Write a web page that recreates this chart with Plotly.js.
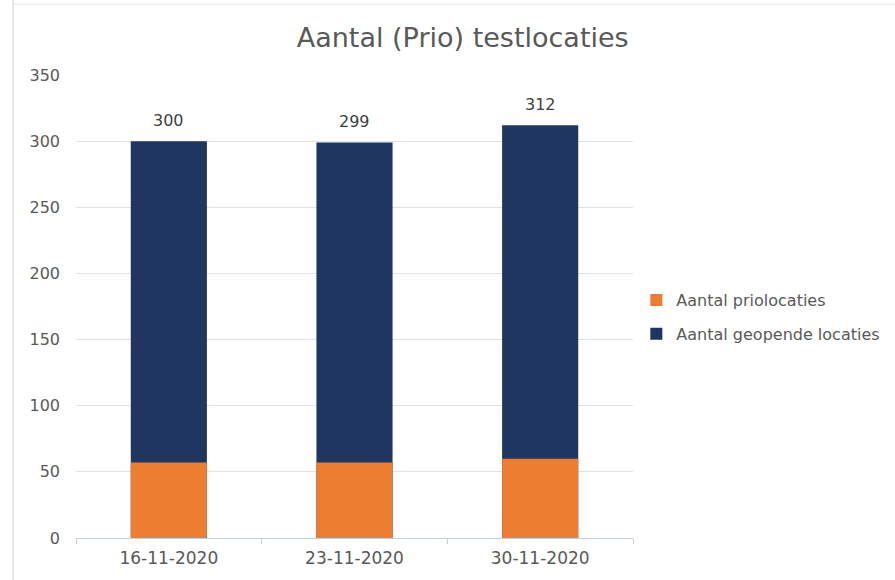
<!DOCTYPE html>
<html><head><meta charset="utf-8">
<script src="https://cdn.plot.ly/plotly-3.0.1.min.js"></script>
<style>html,body{margin:0;padding:0;background:#fff;}#chart{width:895px;height:580px;}</style>
</head><body><div id="chart"></div>
<script>
const categories = ["16-11-2020", "23-11-2020", "30-11-2020"];
const geopendeLocaties = [300, 299, 312];
const prioLocaties = [57, 57, 60];

const font = "DejaVu Sans, Verdana, sans-serif";
const traces = [
  {type: "bar", name: "Aantal geopende locaties", x: categories, y: geopendeLocaties,
   marker: {color: "#1e3660"}, width: 0.41, legendrank: 2, legendgroup: "b", hoverinfo: "skip"},
  {type: "bar", name: "Aantal priolocaties", x: categories, y: prioLocaties,
   marker: {color: "#ed7d31"}, width: 0.41, legendrank: 1, legendgroup: "a", hoverinfo: "skip"}
];
const annotations = categories.map((c, i) => ({
  x: c, y: geopendeLocaties[i], xref: "x", yref: "y", text: String(geopendeLocaties[i]),
  showarrow: false, yanchor: "bottom", yshift: 9,
  font: {family: font, size: 16, color: "#404040"}
}));
const layout = {
  width: 895, height: 580,
  margin: {l: 76, r: 262, t: 75, b: 42, autoexpand: false},
  paper_bgcolor: "#fff", plot_bgcolor: "#fff",
  barmode: "overlay",
  font: {family: font, color: "#595959"},
  title: {text: "Aantal (Prio) testlocaties", font: {family: font, size: 27, color: "#595959"},
          x: 0.517, xanchor: "center", y: 0.935, yanchor: "middle"},
  xaxis: {type: "category", showgrid: false, showline: true, linecolor: "#c5d0dc", linewidth: 1,
          ticks: "outside", tickson: "boundaries", ticklen: 5, tickcolor: "#c5d0dc",
          ticklabelstandoff: 5,
          tickfont: {family: font, size: 17, color: "#595959"}, zeroline: false},
  yaxis: {range: [0, 350], dtick: 50, showgrid: true, gridcolor: "#dde3ea", gridwidth: 1,
          showline: false, zeroline: false, ticks: "", ticklabelstandoff: 15,
          tickfont: {family: font, size: 16, color: "#595959"}},
  annotations: annotations,
  showlegend: true,
  legend: {x: 1.006, xanchor: "left", y: 0.477, yanchor: "middle", bgcolor: "rgba(0,0,0,0)",
           font: {family: font, size: 16, color: "#595959"}, traceorder: "grouped",
           itemwidth: 30, tracegroupgap: 10},
  shapes: [
    {type: "line", xref: "paper", yref: "paper", x0: -0.113, x1: -0.113, y0: -0.1, y1: 1.2,
     line: {color: "#d0d0d0", width: 1}},
    {type: "line", xref: "paper", yref: "paper", x0: -0.113, x1: 1.5, y0: 1.153, y1: 1.153,
     line: {color: "#e6e6e6", width: 1}}
  ]
};
Plotly.newPlot("chart", traces, layout, {displayModeBar: false, staticPlot: true});
</script></body></html>
